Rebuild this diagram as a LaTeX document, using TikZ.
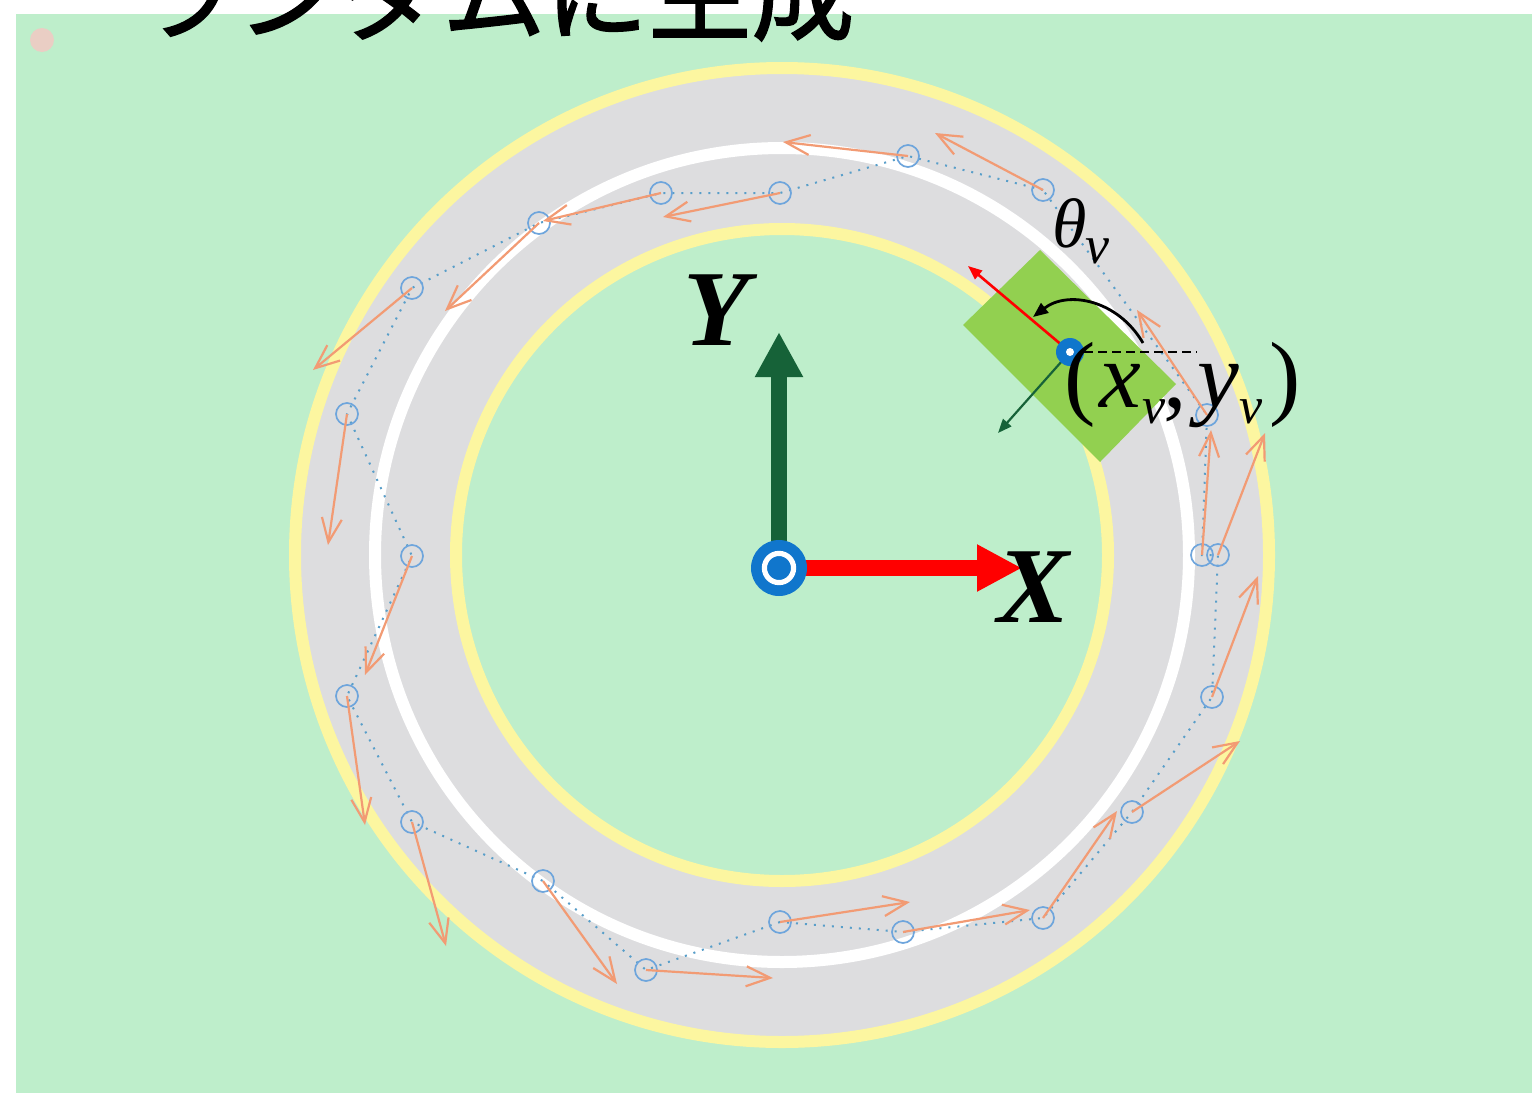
\documentclass[tikz,border=0pt]{standalone}
\usepackage{fontspec}
\setmainfont{Liberation Serif}
\newfontfamily\cjkfont[FakeBold=1.6]{Noto Sans CJK JP}
\usetikzlibrary{arrows.meta}
\definecolor{bggreen}{RGB}{190,238,203}
\definecolor{roadgray}{RGB}{221,221,223}
\definecolor{laneyellow}{RGB}{252,246,160}
\definecolor{mkblue}{RGB}{16,118,204}
\definecolor{axgreen}{RGB}{22,98,56}
\definecolor{wpblue}{RGB}{110,165,220}
\definecolor{arrorange}{RGB}{242,155,116}
\definecolor{cargreen}{RGB}{146,208,80}
\definecolor{pinkdot}{RGB}{234,206,196}
\newcommand{\mysubv}[2]{\raisebox{-#1}{\fontsize{#2}{#2}\selectfont\itshape v}}
\tikzset{
  wp/.style={circle, draw=wpblue, line width=0.85pt, minimum size=11pt, inner sep=0pt},
  wpdot/.style={wpblue!80!teal, line width=1pt, dash pattern=on 1pt off 3.5pt},
  oarr/.style={arrorange, line width=1.1pt, -{Straight Barb[length=12pt,width=10pt,line width=1.1pt]}},
}
\begin{document}
\begin{tikzpicture}[x=0.5pt,y=-0.5pt]
\useasboundingbox (0,0) rectangle (1532,1093);
\clip (0,0) rectangle (1532,1093);
\fill[white] (0,0) rectangle (1532,1093);
\fill[bggreen] (16,14) rectangle (1532,1093);
\node[circle, fill=pinkdot, minimum size=12pt, inner sep=0pt] (dot) at (42,40) {};
% track
\coordinate (tc) at (782,555);
\fill[roadgray, even odd rule] (tc) circle[radius=243.5pt] (tc) circle[radius=163pt];
\draw[laneyellow, line width=6pt] (tc) circle[radius=243.5pt];
\draw[laneyellow, line width=6pt] (tc) circle[radius=163pt];
\draw[white, line width=6pt] (tc) circle[radius=203.5pt];
% waypoints
\coordinate (p1) at (1043,190);
\coordinate (p2) at (908,156);
\coordinate (p3) at (780,193);
\coordinate (p4) at (661,193);
\coordinate (p5) at (539,223);
\coordinate (p6) at (412,288);
\coordinate (p7) at (347,414);
\coordinate (p8) at (412,556);
\coordinate (p9) at (347,696);
\coordinate (p10) at (412,822);
\coordinate (p11) at (543,881);
\coordinate (p12) at (646,970);
\coordinate (p13) at (780,922);
\coordinate (p14) at (903,932);
\coordinate (p15) at (1043,918);
\coordinate (p16) at (1132,812);
\coordinate (p17) at (1212,697);
\coordinate (p18) at (1218,555);
\coordinate (p19) at (1202,555);
\coordinate (p20) at (1207,415);
\draw[wpdot] (p1) -- (p2) -- (p3) -- (p4) -- (p5) -- (p6) -- (p7) -- (p8) -- (p9) -- (p10) -- (p11) -- (p12) -- (p13) -- (p14) -- (p15) -- (p16) -- (p17) -- (p18) -- (p19) -- (p20) -- (p1);
\foreach \i in {1,...,20} { \node[wp] (w\i) at (p\i) {}; }
% heading arrows
\coordinate (t1) at (935,133);
\coordinate (t2) at (783,142);
\coordinate (t3) at (663,217);
\coordinate (t4) at (543,221);
\coordinate (t5) at (445,311);
\coordinate (t6) at (313,370);
\coordinate (t7) at (328,545);
\coordinate (t8) at (365,675);
\coordinate (t9) at (365,825);
\coordinate (t10) at (446,946);
\coordinate (t11) at (617,984);
\coordinate (t12) at (773,978);
\coordinate (t13) at (910,902);
\coordinate (t14) at (1030,910);
\coordinate (t15) at (1117,811);
\coordinate (t16) at (1240,741);
\coordinate (t17) at (1258,576);
\coordinate (t18) at (1265,433);
\coordinate (t19) at (1211,430);
\coordinate (t20) at (1137,310);
\foreach \i in {1,...,20} { \draw[oarr] (w\i.center) -- (t\i); }
% world axes
\coordinate (o) at (779,568);
\coordinate (yend) at (779,332);
\coordinate (xend) at (1022,568);
\draw[axgreen, line width=8pt, -{Triangle[length=22.5pt,width=22.5pt]}] (o) -- (yend);
\draw[red, line width=8pt, -{Triangle[length=22.5pt,width=22pt]}] (o) -- (xend);
\node[circle, fill=mkblue, minimum size=28pt, inner sep=0pt] (O) at (o) {};
\draw[white, line width=2.6pt] (O.center) circle[radius=7.3pt];
\node[anchor=base, font=\fontsize{54pt}{54pt}\selectfont\bfseries\itshape, inner sep=0pt] (xl) at (1034,622) {X};
\node[anchor=base, font=\fontsize{54pt}{54pt}\selectfont\bfseries\itshape, inner sep=0pt] (yl) at (716,345) {Y};
% vehicle
\coordinate (c) at (1070,352);
\fill[cargreen] (1040,250) -- (1176,384) -- (1100,462) -- (963,325) -- cycle;
\coordinate (hd) at (968,266);
\coordinate (lat) at (998,433);
\draw[red, line width=1.3pt, -{Triangle[length=7pt,width=5.5pt]}] (c) -- (hd);
\draw[axgreen, line width=1.1pt, -{Triangle[length=7pt,width=5.5pt]}] (c) -- (lat);
\coordinate (dsA) at (1084,352);
\coordinate (dsB) at (1197,352);
\draw[black, line width=1pt, dash pattern=on 4.5pt off 2.5pt] (dsA) -- (dsB);
\coordinate (arcA) at (1143,343);
\coordinate (arcB) at (1033,317);
\draw[black, line width=1.4pt, -{Triangle[length=7.5pt,width=6pt]}] (arcA) .. controls (1118,300) and (1068,290) .. (arcB);
\node[circle, fill=mkblue, minimum size=14pt, inner sep=0pt] (V) at (c) {};
\fill[white] (V.center) circle[radius=2pt];
% labels
\node[anchor=base west, inner sep=0pt, font=\fontsize{35pt}{35pt}\selectfont] (th) at (1052,247) {\itshape θ\kern-0.5pt\mysubv{8pt}{27pt}};
\node[anchor=base west, inner sep=0pt, font=\fontsize{47pt}{47pt}\selectfont] (xy) at (1064,407) {(\kern2pt\textit{x}\kern0.5pt\mysubv{8pt}{26pt}\kern-1pt,\kern5pt\textit{y}\kern0.5pt\mysubv{8pt}{26pt}\kern3.5pt)};
\node[anchor=base west, inner sep=0pt, font=\cjkfont\fontsize{51.5pt}{51.5pt}\selectfont] (title) at (133,32) {ランダムに生成};
\end{tikzpicture}
\end{document}
